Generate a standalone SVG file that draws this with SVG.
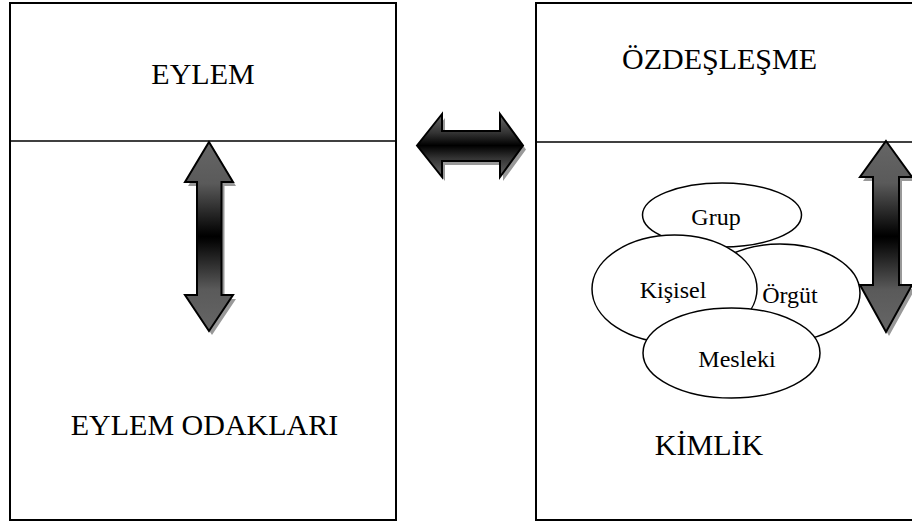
<svg xmlns="http://www.w3.org/2000/svg" width="912" height="524" viewBox="0 0 912 524">
<defs>
<linearGradient id="gv" x1="0" y1="0" x2="0" y2="1">
<stop offset="0" stop-color="#666"/>
<stop offset="0.22" stop-color="#5a5a5a"/>
<stop offset="0.48" stop-color="#050505"/>
<stop offset="0.5" stop-color="#000"/>
<stop offset="0.52" stop-color="#050505"/>
<stop offset="0.78" stop-color="#5a5a5a"/>
<stop offset="1" stop-color="#666"/>
</linearGradient>
<linearGradient id="gh" x1="0" y1="0" x2="0" y2="1">
<stop offset="0" stop-color="#6a6a6a"/>
<stop offset="0.3" stop-color="#333"/>
<stop offset="0.5" stop-color="#000"/>
<stop offset="0.7" stop-color="#333"/>
<stop offset="1" stop-color="#6a6a6a"/>
</linearGradient>
</defs>
<style>
.box{fill:#fff;stroke:#000;stroke-width:2}
.div{stroke:#000;stroke-width:1.3}
.big{font-family:"Liberation Serif","Times New Roman",serif;font-size:30px;fill:#000}
.sm{font-family:"Liberation Serif","Times New Roman",serif;font-size:24px;fill:#000;text-anchor:middle}
.ell{fill:#fff;stroke:#000;stroke-width:1.5}
.shadow{fill:#999;stroke:none}
.arr{stroke:#000;stroke-width:2;stroke-linejoin:miter}
</style>
<rect width="912" height="524" fill="#fff"/>
<g id="eylem-box">
<rect class="box" x="10" y="3" width="386" height="517"/>
<line class="div" x1="10" y1="141" x2="396" y2="141"/>
<text class="big" x="203" y="84" text-anchor="middle">EYLEM</text>
<text class="big" x="204.5" y="435" text-anchor="middle">EYLEM ODAKLARI</text>
</g>
<g id="kimlik-box">
<rect class="box" x="536" y="3" width="390" height="517"/>
<line class="div" x1="536" y1="142" x2="912" y2="142"/>
<text class="big" x="622" y="69">ÖZDEŞLEŞME</text>
<text class="big" x="709" y="455" text-anchor="middle">KİMLİK</text>
</g>
<g id="grup">
<ellipse class="ell" cx="722" cy="215" rx="79.5" ry="32"/>
<text class="sm" x="716" y="225">Grup</text>
</g>
<g id="orgut">
<ellipse class="ell" cx="780" cy="293" rx="80" ry="49"/>
<text class="sm" x="790" y="303">Örgüt</text>
</g>
<g id="kisisel">
<ellipse class="ell" cx="674.5" cy="289" rx="82.5" ry="54"/>
<text class="sm" x="673" y="298">Kişisel</text>
</g>
<g id="mesleki">
<ellipse class="ell" cx="731.5" cy="353" rx="88.5" ry="45"/>
<text class="sm" x="737" y="367">Mesleki</text>
</g>
<g id="connectors">
<g id="arrow-left">
<path class="shadow" transform="translate(3,4)" d="M209,142 L233,182 L221.5,182 L221.5,295 L233,295 L209,331 L185,295 L197,295 L197,182 L185,182 Z"/>
<path class="arr" fill="url(#gv)" d="M209,142 L233,182 L221.5,182 L221.5,295 L233,295 L209,331 L185,295 L197,295 L197,182 L185,182 Z"/>
</g>
<g id="arrow-middle">
<path class="shadow" transform="translate(3,4)" d="M417,145.5 L442,114 L442,131 L500,131 L500,114 L523,145.5 L500,177 L500,161 L442,161 L442,177 Z"/>
<path class="arr" fill="url(#gh)" d="M417,145.5 L442,114 L442,131 L500,131 L500,114 L523,145.5 L500,177 L500,161 L442,161 L442,177 Z"/>
</g>
<g id="arrow-right">
<path class="shadow" transform="translate(3,4)" d="M886,141 L912,177 L899,177 L899,285 L912,285 L886,332 L860,285 L873,285 L873,177 L860,177 Z"/>
<path class="arr" fill="url(#gv)" d="M886,141 L912,177 L899,177 L899,285 L912,285 L886,332 L860,285 L873,285 L873,177 L860,177 Z"/>
</g>
</g>
</svg>
